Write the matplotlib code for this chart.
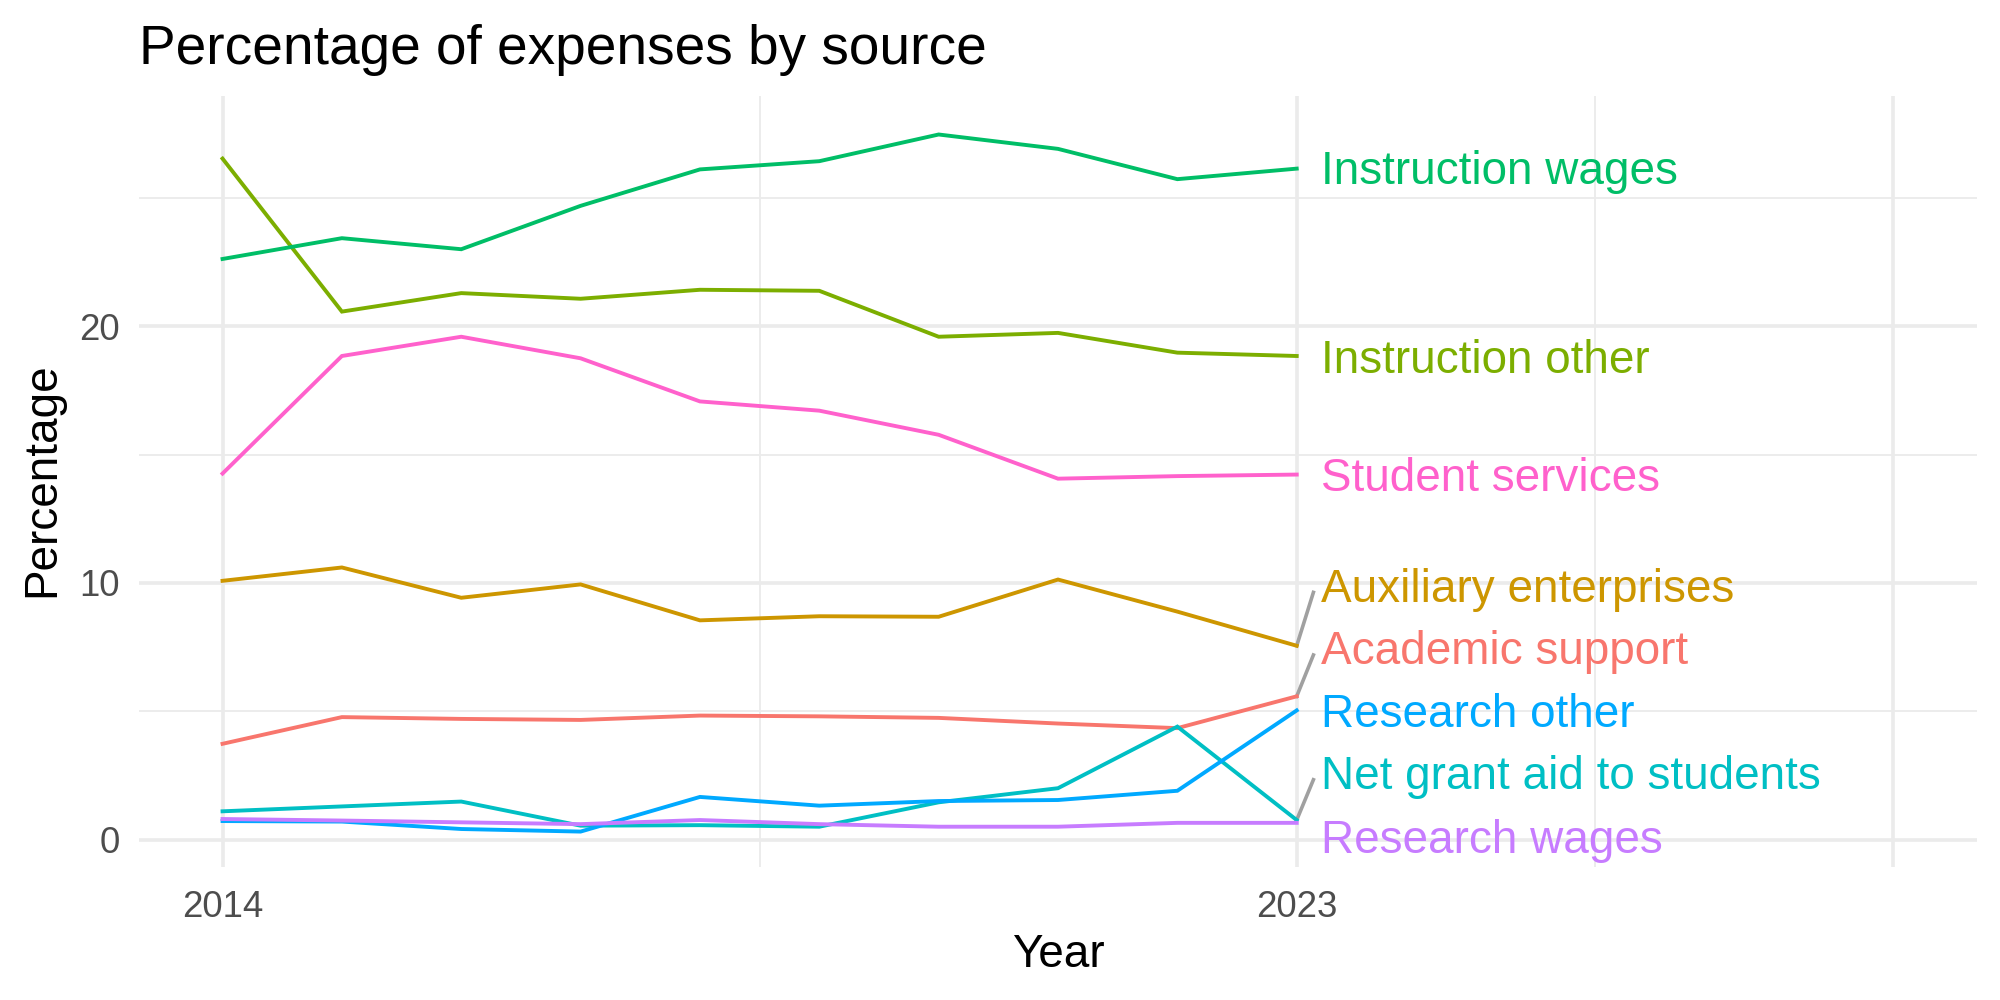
import numpy as np
import matplotlib
matplotlib.use("Agg")
import matplotlib.pyplot as plt

plt.rcParams['font.family'] = ['Liberation Sans', 'DejaVu Sans']

# data
years = [2014, 2015, 2016, 2017, 2018, 2019, 2020, 2021, 2022, 2023]

academic_support = [3.73, 4.77, 4.70, 4.66, 4.83, 4.80, 4.74, 4.52, 4.34, 5.58]
auxiliary_enterprises = [10.08, 10.60, 9.42, 9.94, 8.54, 8.70, 8.68, 10.13, 8.88, 7.55]
instruction_other = [26.53, 20.57, 21.29, 21.07, 21.42, 21.38, 19.59, 19.74, 18.97, 18.84]
instruction_wages = [22.62, 23.43, 23.00, 24.69, 26.11, 26.43, 27.47, 26.91, 25.73, 26.14]
net_grant_aid = [1.10, 1.29, 1.48, 0.54, 0.56, 0.50, 1.45, 2.00, 4.40, 0.76]
research_other = [0.72, 0.70, 0.41, 0.31, 1.66, 1.32, 1.50, 1.54, 1.90, 5.03]
research_wages = [0.80, 0.74, 0.67, 0.60, 0.76, 0.60, 0.50, 0.50, 0.65, 0.65]
student_services = [14.26, 18.84, 19.59, 18.75, 17.07, 16.71, 15.77, 14.06, 14.16, 14.22]

sources = ['Academic support', 'Auxiliary enterprises', 'Instruction other',
           'Instruction wages', 'Net grant aid to students', 'Research other',
           'Research wages', 'Student services']
series = [academic_support, auxiliary_enterprises, instruction_other,
          instruction_wages, net_grant_aid, research_other, research_wages,
          student_services]
colors = ['#F8766D', '#CD9600', '#7CAE00', '#00BE67', '#00BFC4', '#00A9FF',
          '#C77CFF', '#FF61CC']
# where the end labels ended up after repelling
label_y = [7.44, 9.88, 18.8, 26.15, 2.58, 5.01, 0.1, 14.2]

fig = plt.figure(figsize=(10, 5), dpi=200)
ax = fig.add_axes([0.0695, 0.133, 0.919, 0.771])

for name, vals, col, ly in zip(sources, series, colors, label_y):
    ax.plot(years, vals, color=col, lw=1.4, solid_joinstyle='miter', zorder=3)
    x_end, y_end = years[-1], vals[-1]
    if abs(ly - y_end) > 1:
        ax.plot([x_end, x_end + 0.14], [y_end, ly - 0.25], color='#A0A0A0',
                lw=1.3, zorder=2)
    ax.text(x_end + 0.2, ly - 0.15, name, color=col, fontsize=16.5, ha='left',
            va='center', zorder=4)

ax.set_xlim(2013.3, 2028.7)
ax.set_ylim(-1.07, 28.97)

ax.set_xticks([2014, 2023, 2028])
ax.set_xticklabels(['2014', '2023', ''])
ax.set_xticks([2018.5, 2025.5], minor=True)
ax.set_yticks([0, 10, 20])
ax.set_yticks([5, 15, 25], minor=True)

ax.grid(which='major', color='#EBEBEB', lw=1.3, zorder=0)
ax.grid(which='minor', color='#EBEBEB', lw=0.65, zorder=0)
ax.set_axisbelow(True)
for s in ax.spines.values():
    s.set_visible(False)
ax.tick_params(which='both', length=0, labelsize=13.2, labelcolor='#4D4D4D')
ax.tick_params(axis='x', pad=8.3)
ax.tick_params(axis='y', pad=7)

fig.text(0.0695, 1 - 0.064, 'Percentage of expenses by source', fontsize=19.8,
         ha='left', va='baseline')
fig.text(0.529, 1 - 0.955, 'Year', fontsize=16.5, ha='center', va='center')
fig.text(0.021, 0.52, 'Percentage', fontsize=16.5, ha='center', va='center',
         rotation=90)

fig.savefig('out.png', dpi=200, facecolor='white')
